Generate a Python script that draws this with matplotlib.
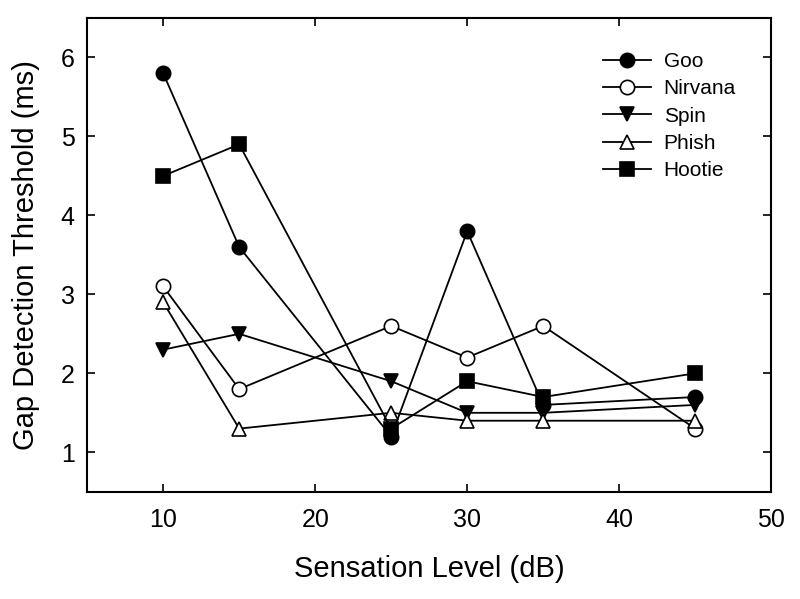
import matplotlib
matplotlib.use("Agg")
import matplotlib.pyplot as plt

plt.rcParams['font.family'] = ['Liberation Sans', 'DejaVu Sans']

# Sensation level (dB)
levels = [10, 15, 25, 30, 35, 45]

goo = [5.8, 3.6, 1.2, 3.8, 1.6, 1.7]
nirvana = [3.1, 1.8, 2.6, 2.2, 2.6, 1.3]
spin = [2.3, 2.5, 1.9, 1.5, 1.5, 1.6]
phish = [2.9, 1.3, 1.5, 1.4, 1.4, 1.4]
hootie = [4.5, 4.9, 1.3, 1.9, 1.7, 2.0]

fig = plt.figure(figsize=(8, 5.99), dpi=100)
ax = fig.add_axes([0.109, 0.179, 0.855, 0.791])

style = dict(color='black', linewidth=1.3, markersize=10.3, markeredgewidth=1.2)
ax.plot(levels, goo, marker='o', markerfacecolor='black', label='Goo', **style)
ax.plot(levels, nirvana, marker='o', markerfacecolor='white', label='Nirvana', **style)
ax.plot(levels, spin, marker='v', markerfacecolor='black', label='Spin', **style)
ax.plot(levels, phish, marker='^', markerfacecolor='white', label='Phish', **style)
ax.plot(levels, hootie, marker='s', markerfacecolor='black', markersize=9.6,
        color='black', linewidth=1.3, markeredgewidth=1.2, label='Hootie')

ax.set_xlim(5, 50)
ax.set_ylim(0.5, 6.5)
ax.set_xticks([10, 20, 30, 40, 50])
ax.set_yticks([1, 2, 3, 4, 5, 6])
ax.tick_params(direction='in', top=True, right=True, length=6, width=1.2,
               labelsize=18, pad=9)
ax.tick_params(axis='x', pad=12)
for s in ax.spines.values():
    s.set_linewidth(1.5)

ax.set_xlabel('Sensation Level (dB)', fontsize=21, labelpad=16)
ax.set_ylabel('Gap Detection Threshold (ms)', fontsize=21, labelpad=15)

ax.legend(loc='upper left', frameon=False, fontsize=15, handlelength=2.3,
          handletextpad=0.6, borderpad=0, borderaxespad=0,
          bbox_to_anchor=(0.754, 0.913), bbox_transform=fig.transFigure,
          labelspacing=0.4)

fig.savefig('out.png', dpi=100)
